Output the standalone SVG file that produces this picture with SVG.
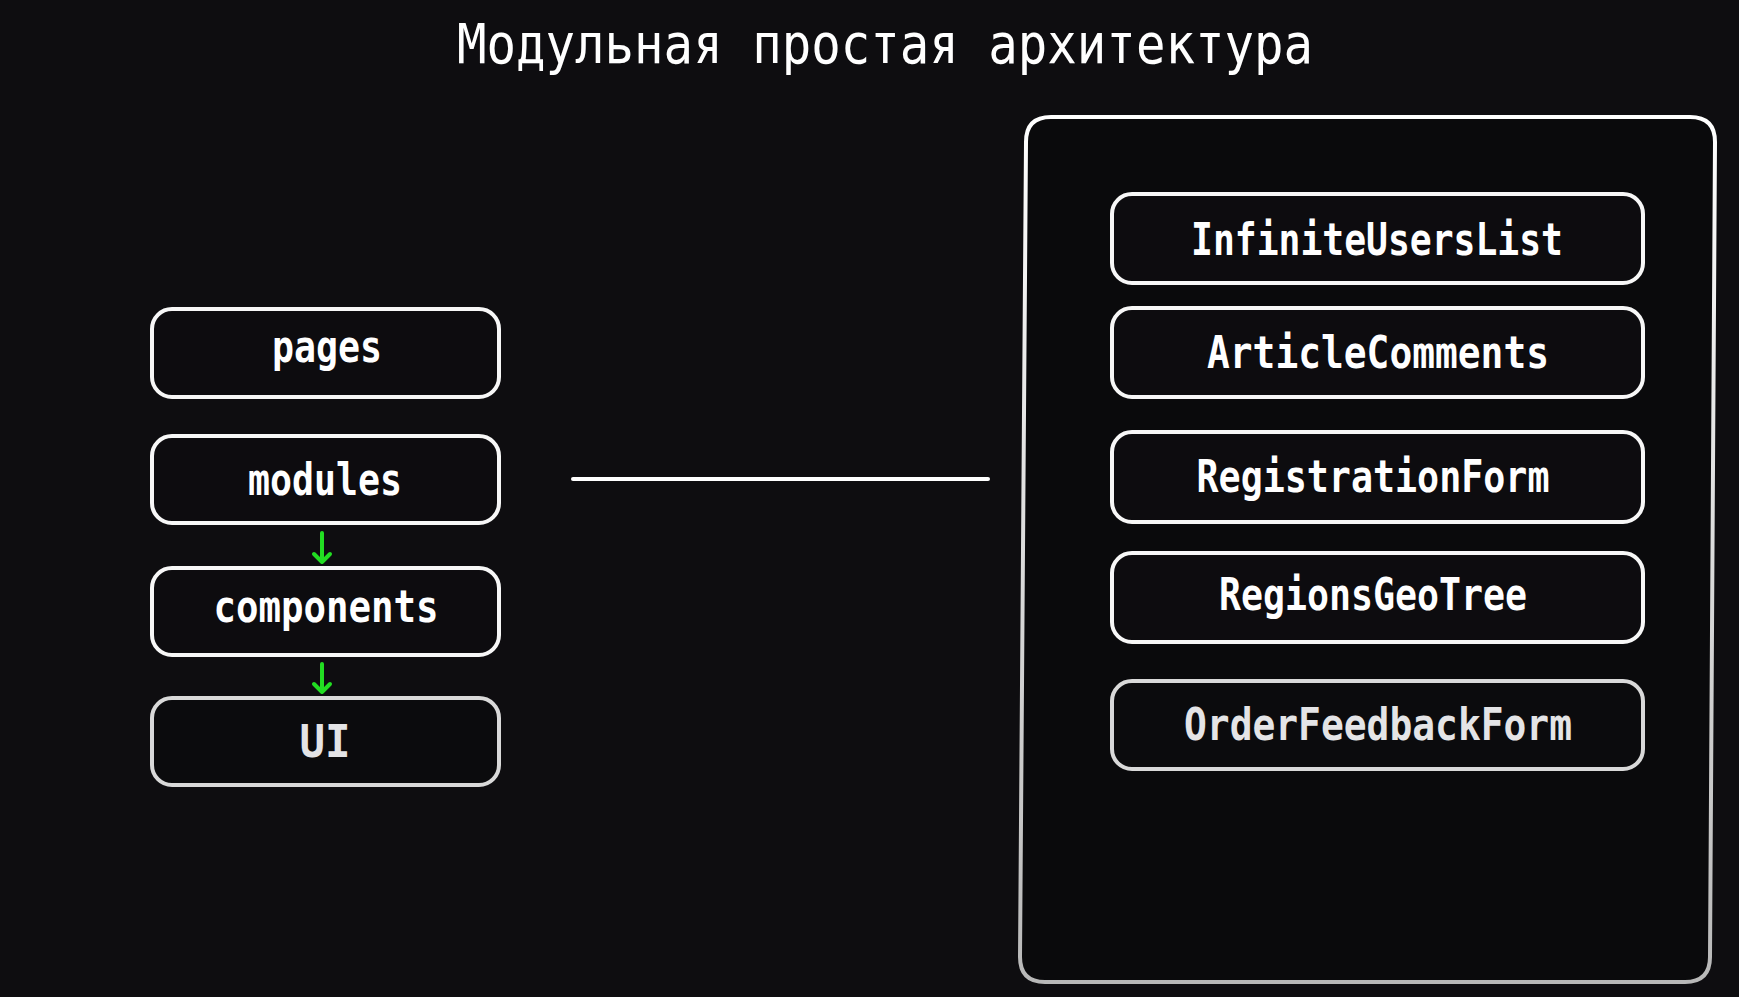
<svg xmlns="http://www.w3.org/2000/svg" width="1739" height="997" viewBox="0 0 1739 997">
  <defs>
    <linearGradient id="frameGrad" x1="0" y1="0" x2="0" y2="1">
      <stop offset="0" stop-color="#ffffff"/>
      <stop offset="1" stop-color="#b8b8b8"/>
    </linearGradient>
    <style>
      .box { fill: #0d0c0f; stroke: #f7f7f7; stroke-width: 4; }
      .boxdim { fill: #0b0b0d; stroke: #d9d9d9; stroke-width: 4; }
      .lbl { font-family: "DejaVu Sans Mono", "Liberation Mono", monospace; font-weight: bold; font-size: 44px; fill: #ffffff; text-anchor: middle; }
      .lbldim { fill: #e4e4e6; }
      .title { font-family: "DejaVu Sans Mono", "Liberation Mono", monospace; font-size: 55px; fill: #ffffff; text-anchor: middle; }
      .arrow { stroke: #22dd22; stroke-width: 4; fill: none; stroke-linecap: round; stroke-linejoin: round; }
      .link { stroke: #ffffff; stroke-width: 4; stroke-linecap: round; fill: none; }
    </style>
  </defs>
  <rect x="0" y="0" width="1739" height="997" fill="#0e0d10"/>

  <text class="title" x="885" y="63" textLength="856" lengthAdjust="spacingAndGlyphs">Модульная простая архитектура</text>

  <g id="container">
    <path d="M 1051,117 H 1690 Q 1715,117 1715,142 L 1710,957 Q 1710,982 1685,982 H 1045 Q 1020,982 1020,957 L 1026,142 Q 1026,117 1051,117 Z" fill="#0a0a0c" stroke="url(#frameGrad)" stroke-width="4"/>
  </g>

  <g id="node-pages">
    <rect class="box" x="152" y="309" width="347" height="88" rx="20"/>
    <text class="lbl" x="327" y="362" textLength="110" lengthAdjust="spacingAndGlyphs">pages</text>
  </g>
  <g id="node-modules">
    <rect class="box" x="152" y="436" width="347" height="87" rx="20"/>
    <text class="lbl" x="325" y="495" textLength="154" lengthAdjust="spacingAndGlyphs">modules</text>
  </g>
  <g id="node-components">
    <rect class="box" x="152" y="568" width="347" height="87" rx="20"/>
    <text class="lbl" x="326" y="622" textLength="225" lengthAdjust="spacingAndGlyphs">components</text>
  </g>
  <g id="node-ui">
    <rect class="boxdim" x="152" y="698" width="347" height="87" rx="20"/>
    <text class="lbl lbldim" x="325" y="757" textLength="51" lengthAdjust="spacingAndGlyphs">UI</text>
  </g>

  <g id="node-infinite">
    <rect class="box" x="1112" y="194" width="531" height="89" rx="20"/>
    <text class="lbl" x="1377" y="255" textLength="372" lengthAdjust="spacingAndGlyphs">InfiniteUsersList</text>
  </g>
  <g id="node-article">
    <rect class="box" x="1112" y="308" width="531" height="89" rx="20"/>
    <text class="lbl" x="1378" y="368" textLength="342" lengthAdjust="spacingAndGlyphs">ArticleComments</text>
  </g>
  <g id="node-registration">
    <rect class="box" x="1112" y="432" width="531" height="90" rx="20"/>
    <text class="lbl" x="1373" y="492" textLength="353" lengthAdjust="spacingAndGlyphs">RegistrationForm</text>
  </g>
  <g id="node-regions">
    <rect class="box" x="1112" y="553" width="531" height="89" rx="20"/>
    <text class="lbl" x="1373" y="610" textLength="308" lengthAdjust="spacingAndGlyphs">RegionsGeoTree</text>
  </g>
  <g id="node-order">
    <rect class="boxdim" x="1112" y="681" width="531" height="88" rx="20"/>
    <text class="lbl lbldim" x="1378" y="740" textLength="388" lengthAdjust="spacingAndGlyphs">OrderFeedbackForm</text>
  </g>

  <g id="connectors">
    <line class="link" x1="573" y1="479" x2="988" y2="479"/>
    <path class="arrow" d="M 322,533 V 562 M 314,554 L 322,562 L 330,554"/>
    <path class="arrow" d="M 322,664 V 692 M 314,684 L 322,692 L 330,684"/>
  </g>
</svg>
